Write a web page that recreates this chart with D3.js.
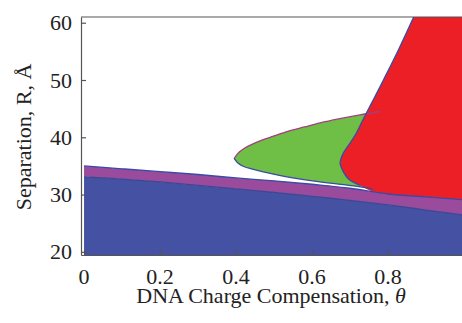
<!DOCTYPE html>
<html><head><meta charset="utf-8">
<script src="https://cdn.jsdelivr.net/npm/d3@7"></script>
<style>html,body{margin:0;padding:0;background:#fff;overflow:hidden}
text{font-family:"Liberation Serif","DejaVu Serif","Times New Roman",serif;}</style>
</head><body>
<svg id="c" width="462" height="323"></svg>
<script>
// ---- data ----
const theta     = [0, 0.1, 0.2, 0.3, 0.4, 0.5, 0.6, 0.7, 0.8, 0.9, 1.0];
const blueTop   = [33.1, 32.7, 32.2, 31.6, 31.0, 30.4, 29.7, 29.0, 28.2, 27.3, 26.4];
const purpleTop = [35.0, 34.5, 34.0, 33.5, 32.9, 32.4, 31.8, 31.1, 30.1, 29.6, 29.1];

const greenUpperTheta = [0.395, 0.405, 0.42, 0.446, 0.49, 0.534, 0.58, 0.621, 0.67, 0.726, 0.78];
const greenUpperR     = [36.3, 37.2, 38.0, 38.9, 40.0, 41.0, 41.8, 42.5, 43.2, 43.9, 44.5];
const greenLowerTheta = [0.395, 0.405, 0.42, 0.446, 0.49, 0.534, 0.621, 0.709, 0.76];
const greenLowerR     = [36.3, 35.5, 34.9, 34.4, 33.7, 33.1, 32.2, 31.5, 31.0];

const redEdgeTheta = [0.871, 0.827, 0.788, 0.761, 0.735, 0.715, 0.695, 0.683, 0.676, 0.674, 0.68, 0.69, 0.70, 0.727, 0.76, 0.85, 1.0];
const redEdgeR     = [61.5, 55.2, 50.0, 46.5, 43.2, 40.5, 38.5, 37.3, 36.2, 35.4, 34.3, 33.2, 32.5, 31.6, 30.5, 29.3, 28.5];

const xTicks = [0, 0.2, 0.4, 0.6, 0.8];
const xTickLabels = ["0", "0.2", "0.4", "0.6", "0.8"];
const yTicks = [20, 30, 40, 50, 60];
const yTickLabels = ["20", "30", "40", "50", "60"];

// ---- layout ----
const svg = d3.select("#c");
const x = d3.scaleLinear().domain([-0.008, 1.0]).range([81, 464]);
const y = d3.scaleLinear().domain([19.45, 61]).range([255, 17]);
const yMin = y.domain()[0], yMax = y.domain()[1];

svg.append("defs").append("clipPath").attr("id", "clip")
  .append("rect").attr("x", 81).attr("y", 17).attr("width", 462 - 81).attr("height", 255 - 17);
const g = svg.append("g").attr("clip-path", "url(#clip)");

const curve = d3.curveCatmullRom.alpha(0.5);
const line = d3.line().x(d => x(d[0])).y(d => y(d[1])).curve(curve);
const zip = (a, b) => a.map((v, i) => [v, b[i]]);

const blueFill = "#4551a2", purpleFill = "#9a4b9c", greenFill = "#6fbe45", redFill = "#ec1f27";
const edgeBlue = "#3a4aa6", edgeMag = "#a1407f";

// green region
const gU = zip(greenUpperTheta, greenUpperR);
const gL = zip(greenLowerTheta, greenLowerR);
const gPath = line(gU) + "L" + line(gL.slice().reverse()).slice(1) + "Z";
g.append("path").attr("d", gPath).attr("fill", greenFill);

// red region
const rE = zip(redEdgeTheta, redEdgeR);
const rPath = line(rE) + `L${x(1.0)},${y(yMin)}L${x(1.0)},${y(yMax) - 5}L${x(redEdgeTheta[0])},${y(yMax) - 5}Z`;
g.append("path").attr("d", rPath).attr("fill", redFill);

// purple band and blue band
const area = (lo, hi) => d3.area().x((d, i) => x(theta[i])).y0(d => y(lo(d))).y1(d => y(hi(d))).curve(curve);
const idx = theta.map((t, i) => i);
g.append("path").datum(idx).attr("fill", purpleFill)
  .attr("d", area(i => blueTop[i], i => purpleTop[i]));
g.append("path").datum(idx).attr("fill", blueFill)
  .attr("d", area(i => yMin - 2, i => blueTop[i]));

// edges
const edge = (pts, col) => g.append("path").attr("d", line(pts)).attr("fill", "none")
  .attr("stroke", col).attr("stroke-width", 1.3);
edge(zip(theta, purpleTop), edgeBlue);
edge(zip(theta, blueTop), "#3c4796");
edge(gU, edgeMag);
edge(gL, edgeBlue);
edge(rE.filter(d => d[0] <= 0.73 || d[1] > 31.5), edgeBlue);

// axes
const axCol = "#555";
svg.append("line").attr("x1", 81).attr("x2", 462).attr("y1", 17).attr("y2", 17).attr("stroke", axCol).attr("stroke-width", 1.2);
const yAxis = d3.axisRight(y).tickValues(yTicks).tickFormat("").tickSize(5).tickSizeOuter(0);
const yg = svg.append("g").attr("transform", "translate(81,0)").call(yAxis);
const xAxis = d3.axisTop(x).tickValues(xTicks).tickFormat("").tickSize(5).tickSizeOuter(0);
const xg = svg.append("g").attr("transform", "translate(0,255)").call(xAxis);
[yg, xg].forEach(a => { a.selectAll("path,line").attr("stroke", axCol).attr("stroke-width", 1.2); });

const fs = 22;
svg.selectAll(".yl").data(yTicks).enter().append("text")
  .attr("x", 72).attr("y", d => y(d) + 7.5).attr("text-anchor", "end")
  .attr("font-size", fs).attr("fill", "#222")
  .text((d, i) => yTickLabels[i]);
svg.selectAll(".xl").data(xTicks).enter().append("text")
  .attr("x", d => x(d)).attr("y", 284).attr("text-anchor", "middle")
  .attr("font-size", fs).attr("fill", "#222")
  .text((d, i) => xTickLabels[i]);

const xt = svg.append("text").attr("x", 271).attr("y", 303).attr("text-anchor", "middle")
  .attr("font-size", fs).attr("fill", "#222");
xt.append("tspan").text("DNA Charge Compensation, ");
xt.append("tspan").attr("font-style", "italic").text("θ");

svg.append("text").attr("transform", "translate(31,137) rotate(-90)").attr("text-anchor", "middle")
  .attr("font-size", fs).attr("fill", "#222")
  .text("Separation, R, Å");
</script>
</body></html>
